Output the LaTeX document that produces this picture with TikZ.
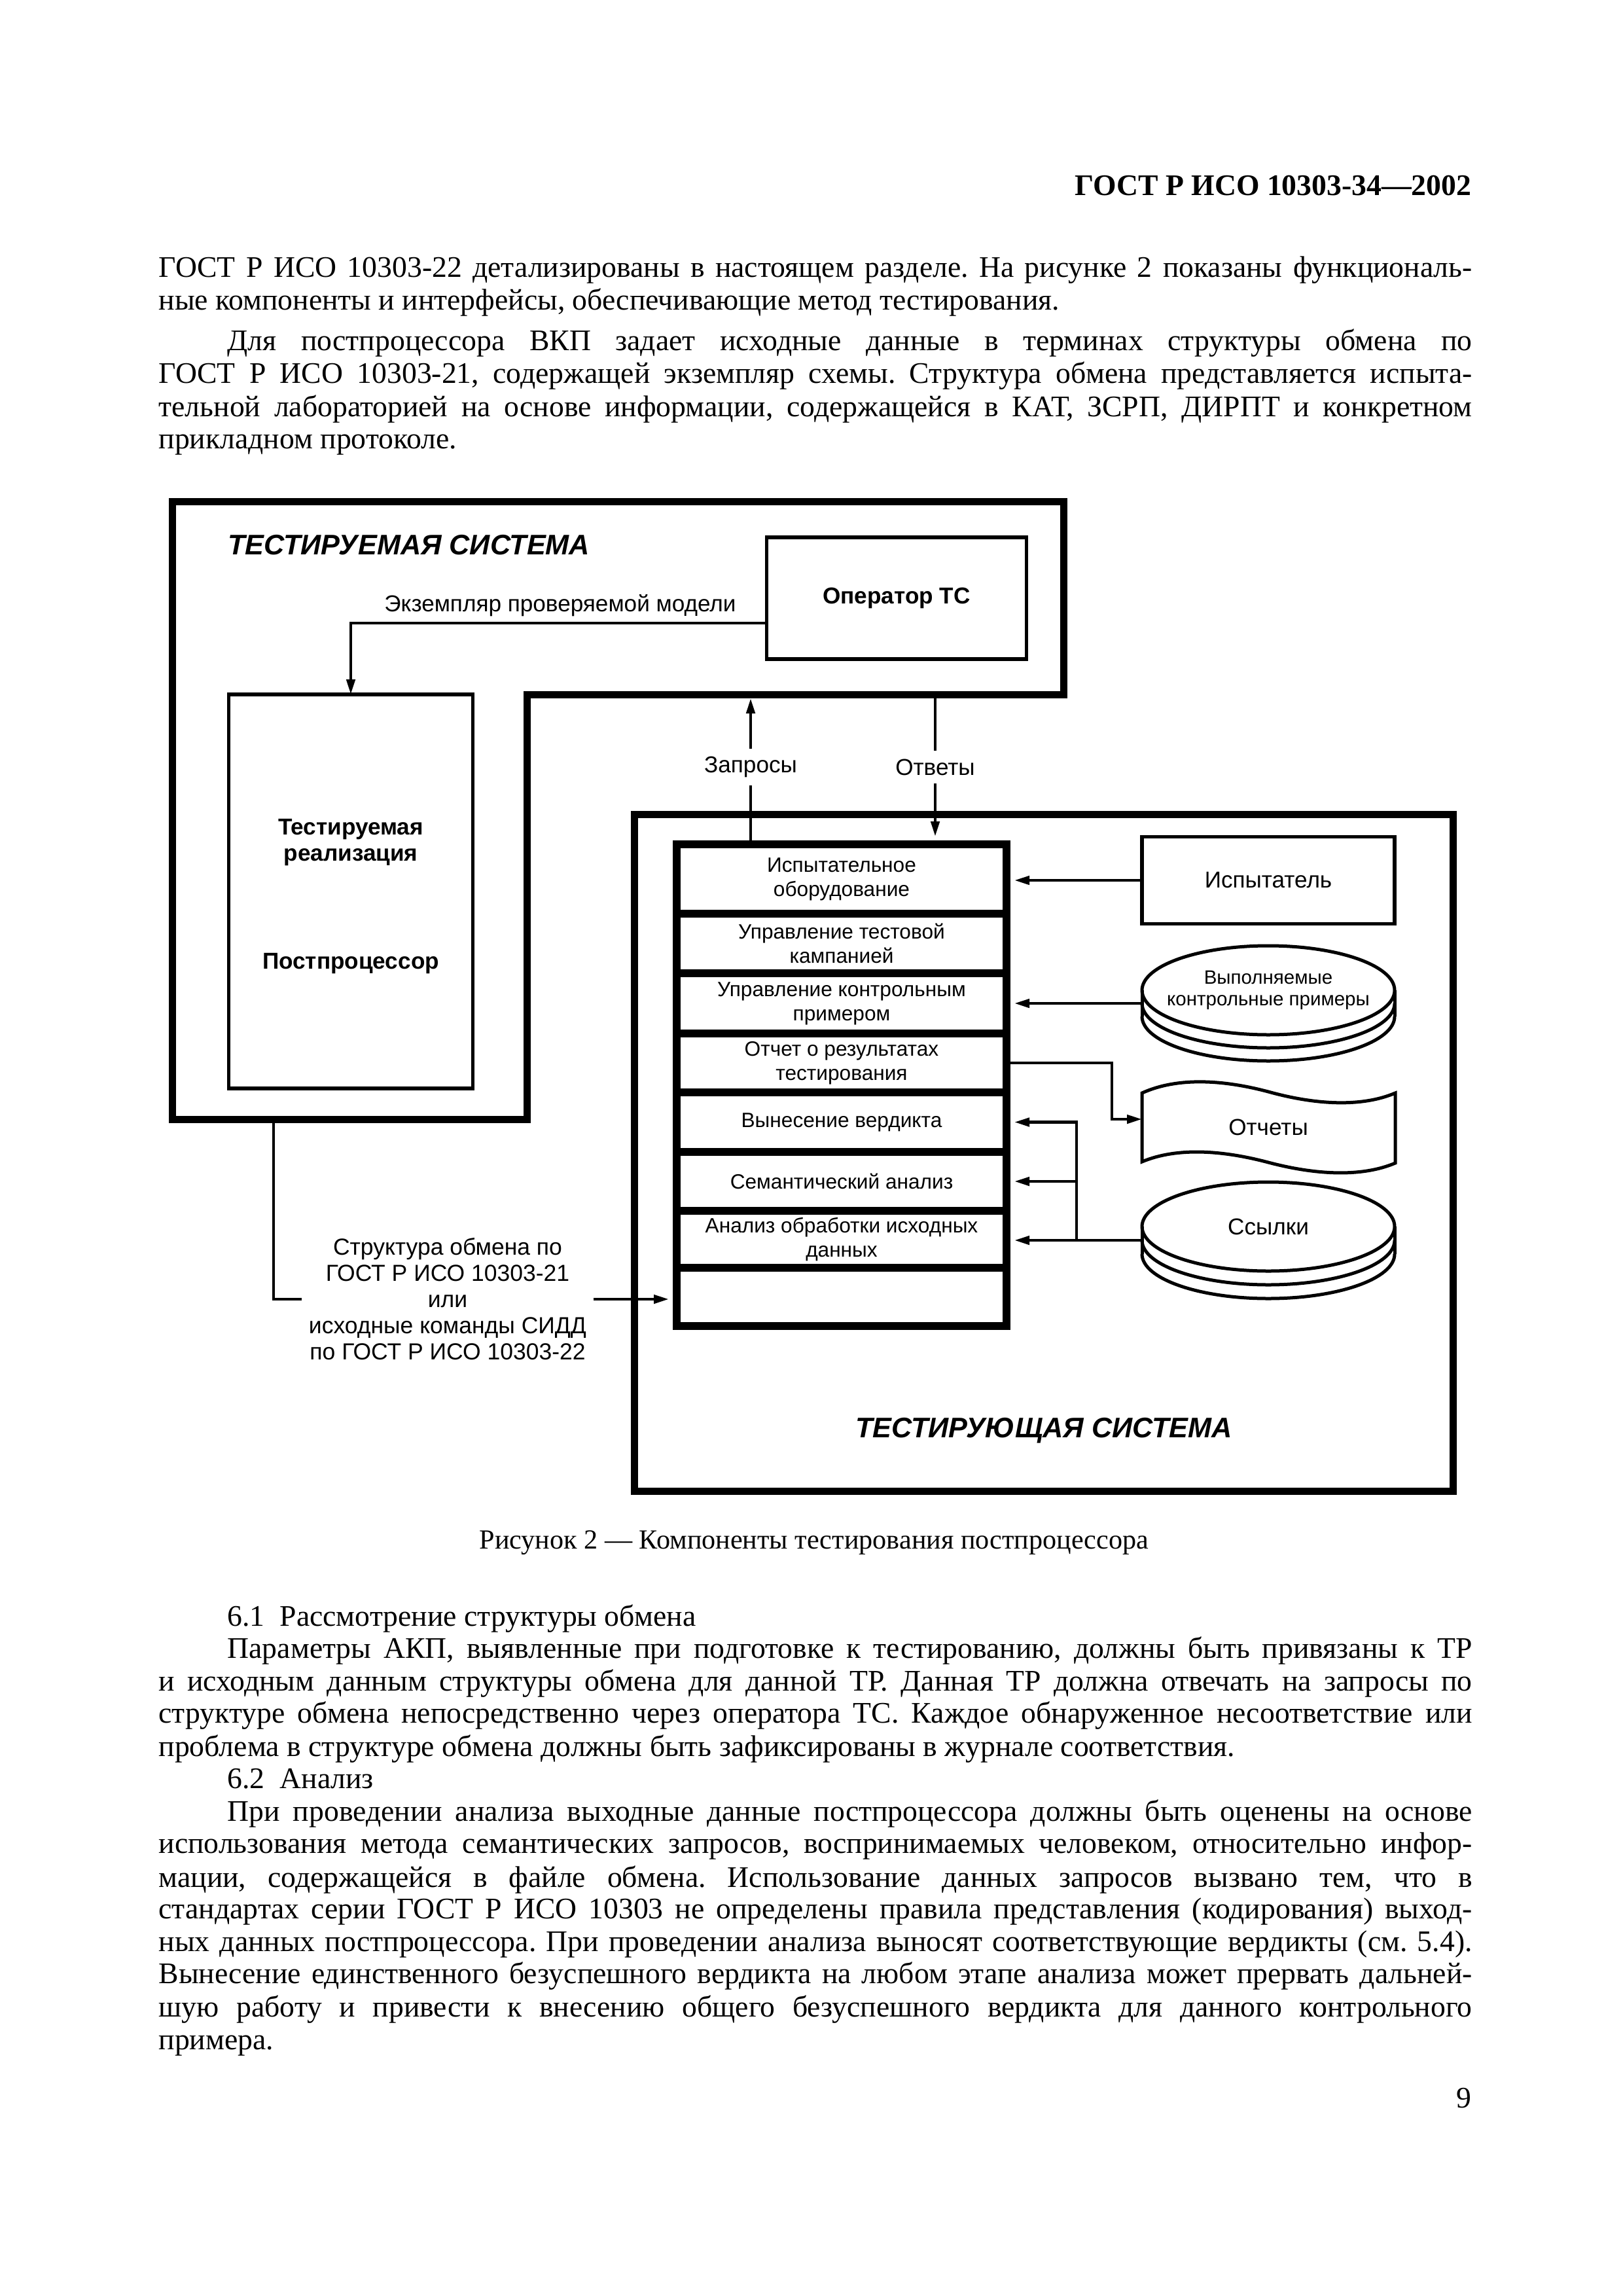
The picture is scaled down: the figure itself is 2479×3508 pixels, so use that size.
\documentclass[tikz,border=0pt]{standalone}
\usepackage{fontspec}
\setmainfont{Liberation Serif}
\newfontfamily\diagfont{Liberation Sans}
\usetikzlibrary{arrows.meta,shapes.geometric,positioning,calc}
\frenchspacing

\newcommand{\jline}[2]{\makebox[#1][s]{#2}}

\begin{document}
\begin{tikzpicture}[x=0.1mm,y=-0.1mm,
    frame/.style={line width=1.1mm},
    box/.style={draw, line width=0.55mm, inner sep=0pt, outer sep=0pt, align=center},
    cell/.style={draw, line width=1.2mm, minimum width=50.4mm, inner sep=0pt, align=center,
        font=\diagfont\fontsize{9}{10.5}\selectfont},
    lbl/.style={font=\diagfont\fontsize{10}{11.4}\selectfont, align=center},
    blbl/.style={font=\diagfont\bfseries\fontsize{10}{11.6}\selectfont, align=center},
    ttl/.style={font=\diagfont\bfseries\itshape\fontsize{12.3}{14}\selectfont},
    disk/.style={draw, ellipse, line width=0.5mm, inner sep=0pt, outer sep=0pt, align=center,
        minimum width=38.6mm, minimum height=13.6mm},
    arr/.style={-{Triangle[length=2.3mm,width=1.3mm]}, line width=0.45mm},
    con/.style={line width=0.45mm},
    body/.style={font=\fontsize{13}{15}\selectfont, inner sep=0pt}
]
\useasboundingbox (0,0) rectangle (2479,3508);

% page text above the figure
\node[body, font=\bfseries\fontsize{13}{15}\selectfont, anchor=mid east] (head) at (2249,290) {ГОСТ Р ИСО 10303-34—2002};
\node[body, anchor=mid west] (p1) at (242,415) {\jline{200.7mm}{ГОСТ Р ИСО 10303-22 детализированы в настоящем разделе. На рисунке 2 показаны функциональ-}};
\node[body, anchor=mid west] (p2) at (242,465) {ные компоненты и интерфейсы, обеспечивающие метод тестирования.};
\node[body, anchor=mid west] (p3) at (347,527) {\jline{190.2mm}{Для постпроцессора ВКП задает исходные данные в терминах структуры обмена по}};
\node[body, anchor=mid west] (p4) at (242,577) {\jline{200.7mm}{ГОСТ Р ИСО 10303-21, содержащей экземпляр схемы. Структура обмена представляется испыта-}};
\node[body, anchor=mid west] (p5) at (242,628) {\jline{200.7mm}{тельной лабораторией на основе информации, содержащейся в КАТ, ЗСРП, ДИРПТ и конкретном}};
\node[body, anchor=mid west] (p6) at (242,677) {прикладном протоколе.};

% tested system
\draw[frame] (263,767) -- (1625,767) -- (1625,1061) -- (805,1061) -- (805,1710) -- (263,1710) -- cycle;
\node[ttl, anchor=mid west] (ts) at (336,839) {ТЕСТИРУЕМАЯ СИСТЕМА};
\node[box, blbl, minimum width=39.7mm, minimum height=18.6mm] (oper) at (1370,914) {Оператор ТС};
\node[box, minimum width=37.3mm, minimum height=60.2mm] (impl) at (536,1362) {};
\node[blbl] (implt) at (536,1287) {Тестируемая\\реализация};
\node[blbl] (post) at (536,1472) {Постпроцессор};
\node[lbl] (ekz) at (856,925) {Экземпляр проверяемой модели};
\coordinate (ox) at (1172,952);
\draw[arr] (ox) -| (impl.north);

% testing system
\draw[frame] (969,1244) rectangle (2220,2278);
\node[ttl] (tg) at (1595,2186) {ТЕСТИРУЮЩАЯ СИСТЕМА};

\node[cell, minimum height=10.6mm] (c1) at (1286,1343) {Испытательное\\оборудование};
\node[cell, minimum height=9.1mm] (c2) at (1286,1441.5) {Управление тестовой\\кампанией};
\node[cell, minimum height=9.2mm] (c3) at (1286,1533) {Управление контрольным\\примером};
\node[cell, minimum height=9.0mm] (c4) at (1286,1624) {Отчет о результатах\\тестирования};
\node[cell, minimum height=9.1mm] (c5) at (1286,1714.5) {Вынесение вердикта};
\node[cell, minimum height=9.0mm] (c6) at (1286,1805) {Семантический анализ};
\node[cell, minimum height=8.7mm] (c7) at (1286,1893.5) {Анализ обработки исходных\\данных};
\node[cell, minimum height=8.9mm] (c8) at (1286,1981.5) {};

% queries and answers
\coordinate (zt) at (1147,1067);
\coordinate (ot) at (1429,1067);
\node[lbl] (zapr) at (1147,1172) {Запросы};
\node[lbl] (otv) at (1429,1172) {Ответы};
\draw[arr] (zapr.north) -- (zt);
\draw[con] (c1.north -| zapr) -- (zapr.south);
\draw[con] (ot) -- (otv.north);
\draw[arr, shorten >=0.6mm] (otv.south) -- (c1.north -| otv);

% right column
\node[box, lbl, minimum width=38.6mm, minimum height=13.3mm] (isp) at (1938,1345) {Испытатель};
\draw[arr, shorten >=0.6mm] (isp.west) -- (isp.west -| c1.east);

\node[disk] (vyp) at (1938,1513) {};
\node[lbl, font=\diagfont\fontsize{8.4}{9.4}\selectfont] (vypt) at (vyp) {Выполняемые\\контрольные примеры};
\foreach \d in {20,40}
  \draw[line width=0.5mm] ($(vyp.west)+(0,\d)$) arc[start angle=180, end angle=360, x radius=19.3mm, y radius=6.8mm];
\draw[line width=0.5mm] (vyp.west) -- ++(0,40);
\draw[line width=0.5mm] (vyp.east) -- ++(0,40);
\coordinate (vypl) at ($(vyp.west)+(0,20)$);
\draw[arr, shorten >=0.6mm] (vypl) -- (vypl -| c3.east);

\draw[line width=0.5mm] (1745,1670) .. controls (1800,1645) and (1870,1650) .. (1938,1668)
  .. controls (2010,1688) and (2080,1692) .. (2132,1670) -- (2132,1777)
  .. controls (2080,1799) and (2010,1795) .. (1938,1776)
  .. controls (1870,1758) and (1800,1752) .. (1745,1775) -- cycle;
\node[lbl] (otch) at (1938,1722) {Отчеты};
\coordinate (otchl) at (1745,1710);
\draw[arr] (c4.east) -- ++(155,0) |- (otchl);

\node[disk, lbl] (ssyl) at (1938,1874) {Ссылки};
\foreach \d in {21,42}
  \draw[line width=0.5mm] ($(ssyl.west)+(0,\d)$) arc[start angle=180, end angle=360, x radius=19.3mm, y radius=6.8mm];
\draw[line width=0.5mm] (ssyl.west) -- ++(0,42);
\draw[line width=0.5mm] (ssyl.east) -- ++(0,42);
\coordinate (ssl) at ($(ssyl.west)+(0,21)$);
\coordinate (jn) at ($(ssl)+(-100,0)$);
\draw[arr, shorten >=0.6mm] (ssl) -- (ssl -| c7.east);
\draw[arr, shorten >=0.6mm] (jn) |- (c5.east);
\draw[arr, shorten >=0.6mm] (jn |- c6.east) -- (c6.east);

% exchange structure input
\coordinate (tsb) at (418,1710);
\node[lbl, font=\diagfont\fontsize{10.1}{11.4}\selectfont, inner sep=1mm] (str) at (684,1985)
  {Структура обмена по\\ГОСТ Р ИСО 10303-21\\или\\исходные команды СИДД\\по ГОСТ Р ИСО 10303-22};
\draw[con] (tsb) |- (str.west);
\draw[arr, shorten >=0.6mm] (str.east) -- (str.east -| c8.west);

% caption and text below
\node[body, font=\fontsize{12}{14}\selectfont, anchor=mid] (cap) at (1244,2358) {Рисунок 2 — Компоненты тестирования постпроцессора};
\node[body, anchor=mid west] (q1) at (347,2476) {6.1\enspace Рассмотрение структуры обмена};
\node[body, anchor=mid west] (q2) at (347,2525) {\jline{190.2mm}{Параметры АКП, выявленные при подготовке к тестированию, должны быть привязаны к ТР}};
\node[body, anchor=mid west] (q3) at (242,2575) {\jline{200.7mm}{и исходным данным структуры обмена для данной ТР. Данная ТР должна отвечать на запросы по}};
\node[body, anchor=mid west] (q4) at (242,2624) {\jline{200.7mm}{структуре обмена непосредственно через оператора ТС. Каждое обнаруженное несоответствие или}};
\node[body, anchor=mid west] (q5) at (242,2675) {проблема в структуре обмена должны быть зафиксированы в журнале соответствия.};
\node[body, anchor=mid west] (q6) at (347,2724) {6.2\enspace Анализ};
\node[body, anchor=mid west] (q7) at (347,2774) {\jline{190.2mm}{При проведении анализа выходные данные постпроцессора должны быть оценены на основе}};
\node[body, anchor=mid west] (q8) at (242,2823) {\jline{200.7mm}{использования метода семантических запросов, воспринимаемых человеком, относительно инфор-}};
\node[body, anchor=mid west] (q9) at (242,2875) {\jline{200.7mm}{мации, содержащейся в файле обмена. Использование данных запросов вызвано тем, что в}};
\node[body, anchor=mid west] (q10) at (242,2923) {\jline{200.7mm}{стандартах серии ГОСТ Р ИСО 10303 не определены правила представления (кодирования) выход-}};
\node[body, anchor=mid west] (q11) at (242,2973) {\jline{200.7mm}{ных данных постпроцессора. При проведении анализа выносят соответствующие вердикты (см. 5.4).}};
\node[body, anchor=mid west] (q12) at (242,3022) {\jline{200.7mm}{Вынесение единственного безуспешного вердикта на любом этапе анализа может прервать дальней-}};
\node[body, anchor=mid west] (q13) at (242,3073) {\jline{200.7mm}{шую работу и привести к внесению общего безуспешного вердикта для данного контрольного}};
\node[body, anchor=mid west] (q14) at (242,3123) {примера.};
\node[body, anchor=mid east] (pg) at (2249,3212) {9};
\end{tikzpicture}
\end{document}
